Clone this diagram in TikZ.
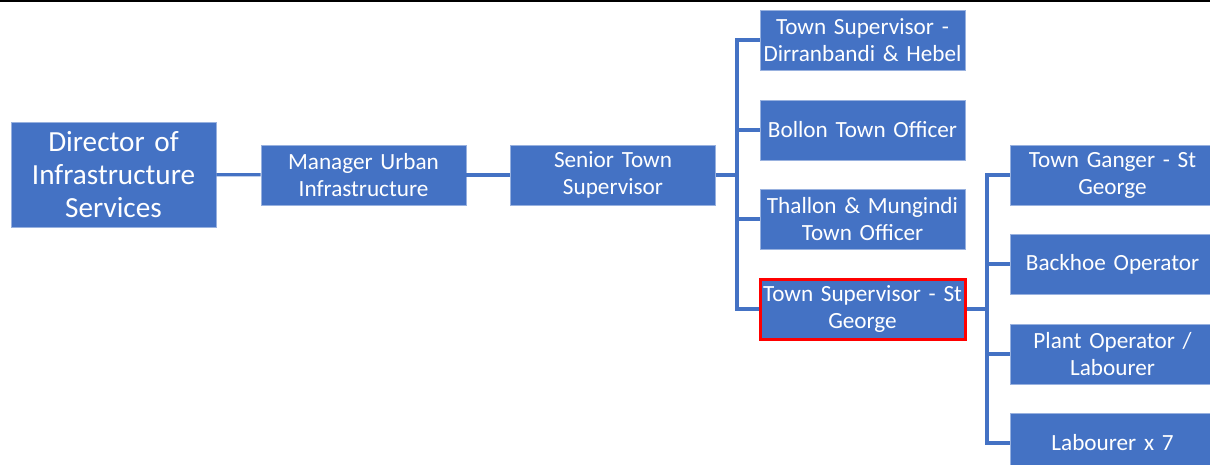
\documentclass[tikz,border=0pt]{standalone}
\usepackage{fontspec}
\setmainfont{Carlito}[WordSpace=0.85]
\definecolor{boxblue}{HTML}{4472C4}

\begin{document}
\begin{tikzpicture}[x=0.5pt,y=-0.5pt,
 role/.style={fill=boxblue,draw=boxblue!55!white,line width=0.4pt,text=white,
  align=center,text width=100pt,inner xsep=1.25pt,inner ysep=1pt,
  minimum height=30pt,font=\fontsize{11.6}{13.5}\selectfont},
 link/.style={draw=boxblue,line width=1.6pt}]
 \useasboundingbox (0,0) rectangle (1210,465);
 \draw[line width=1pt] (0,1) -- (1210,1);
 \def\colA{862.5}
 \def\colB{1112.5}
 % left chain
 \node[role,minimum height=52.5pt,font=\fontsize{14.6}{16.5}\selectfont] (dis) at (113.5,174.5) {Director of\\Infrastructure\\Services};
 \node[role] (mui) at (363.5,175) {Manager Urban\\Infrastructure};
 \node[role] (sts) at (613,175) {Senior Town\\Supervisor};
 % towns
 \node[role] (tsd) at (\colA,40) {Town Supervisor -\\Dirranbandi \& Hebel};
 \node[role] (bto) at (\colA,130) {Bollon Town Officer};
 \node[role] (tmo) at (\colA,219) {Thallon \& Mungindi\\Town Officer};
 \node[role,draw=red,line width=1.5pt] (tsg) at (\colA,309) {Town Supervisor - St\\George};
 % st george crew
 \node[role] (tgs) at (\colB,175) {Town Ganger - St\\George};
 \node[role] (bho) at (\colB,264) {Backhoe Operator};
 \node[role] (pol) at (\colB,354) {Plant Operator /\\Labourer};
 \node[role] (lab) at (\colB,443) {Labourer x 7};
 % connectors
 \coordinate (j1) at (737,175);
 \coordinate (j2) at (987,309);
 \draw[link] (dis) -- (mui);
 \draw[link] (mui) -- (sts);
 \foreach \n in {tsd,bto,tmo,tsg}
  \draw[link] (sts.east) -- (j1) |- (\n.west);
 \foreach \n in {tgs,bho,pol,lab}
  \draw[link] (tsg.east) -- (j2) |- (\n.west);
\end{tikzpicture}
\end{document}
